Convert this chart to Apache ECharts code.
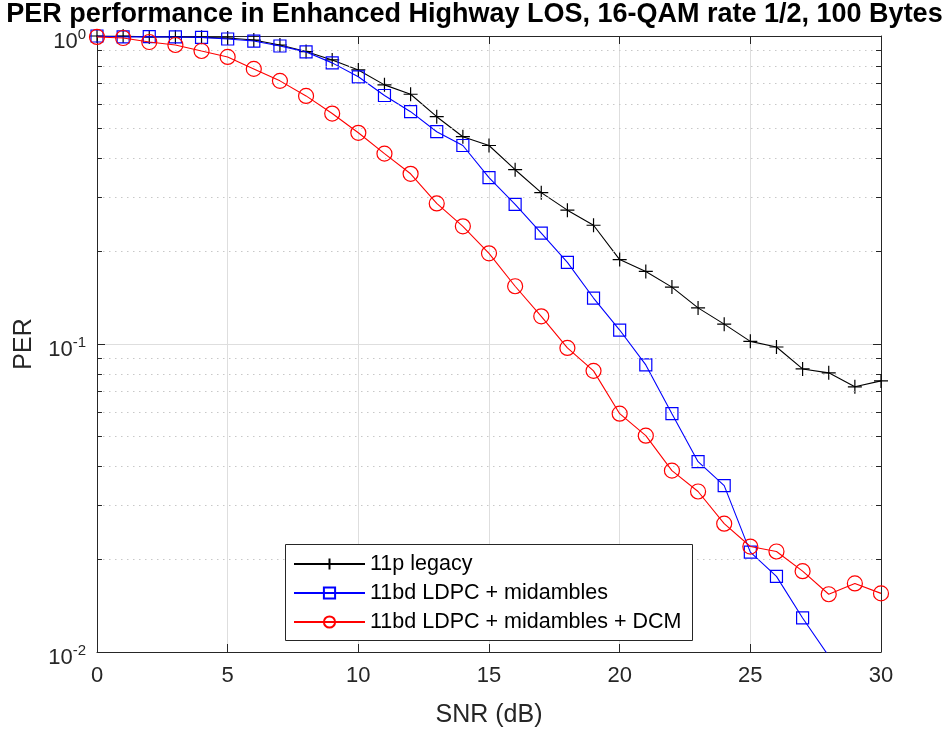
<!DOCTYPE html>
<html>
<head>
<meta charset="utf-8">
<title>PER performance in Enhanced Highway LOS</title>
<script src="https://cdn.jsdelivr.net/npm/echarts@6/dist/echarts.min.js"></script>
<style>
  html, body { margin: 0; padding: 0; background: #fff; }
  #chart { width: 949px; height: 733px; }
</style>
</head>
<body>
<div id="chart"></div>
<script>
// SNR grid (dB)
const snr = [0, 1, 2, 3, 4, 5, 6, 7, 8, 9, 10, 11, 12, 13, 14, 15, 16, 17, 18, 19, 20,
             21, 22, 23, 24, 25, 26, 27, 28, 29, 30];

// Packet error rate per scheme
const legacy11p = [1.0, 1.0, 0.993, 0.993, 0.99, 0.985, 0.97, 0.935, 0.89, 0.836, 0.776,
                   0.694, 0.647, 0.547, 0.471, 0.441, 0.368, 0.310, 0.272, 0.243, 0.188,
                   0.172, 0.153, 0.131, 0.116, 0.102, 0.0978, 0.0830, 0.0806, 0.0726, 0.0759];
const ldpcMid = [1.0, 0.993, 0.995, 0.993, 0.99, 0.978, 0.963, 0.928, 0.888, 0.818, 0.737,
                 0.641, 0.568, 0.489, 0.441, 0.347, 0.284, 0.229, 0.184, 0.141, 0.111,
                 0.0855, 0.0594, 0.0415, 0.0347, 0.0211, 0.0176, 0.0129, 0.0097];
const ldpcMidDcm = [0.993, 0.985, 0.956, 0.935, 0.894, 0.855, 0.782, 0.715, 0.639, 0.560, 0.485,
                    0.415, 0.357, 0.286, 0.241, 0.197, 0.154, 0.123, 0.0971, 0.0818, 0.0594,
                    0.0504, 0.0388, 0.0332, 0.0261, 0.0220, 0.0212, 0.0183, 0.0154, 0.0167, 0.0155];

const seriesNames = ['11p legacy', '11bd LDPC + midambles', '11bd LDPC + midambles + DCM'];

// Minor decade positions for the dotted grid and the small ticks
const minorLevels = [0.02, 0.03, 0.04, 0.05, 0.06, 0.07, 0.08, 0.09,
                     0.2, 0.3, 0.4, 0.5, 0.6, 0.7, 0.8, 0.9];

const pairs = ys => ys.map((v, i) => [snr[i], v]);

const FONT = '"Liberation Sans", Arial, Helvetica, sans-serif';
const AXIS_COLOR = '#262626';

const minorGrid = minorLevels.map(v => [{ coord: [0, v] }, { coord: [30, v] }]);
const minorTicksLeft = minorLevels.map(v => [{ coord: [0, v] }, { coord: [0.19, v] }]);
const minorTicksRight = minorLevels.map(v => [{ coord: [30, v] }, { coord: [29.81, v] }]);

const chart = echarts.init(document.getElementById('chart'), null, { renderer: 'canvas' });

const plusPath = 'path://M5,0L5,10M0,5L10,5';

chart.setOption({
  animation: false,
  backgroundColor: '#fff',
  title: {
    text: 'PER performance in Enhanced Highway LOS, 16-QAM rate 1/2, 100 Bytes',
    left: 'center',
    top: 1,
    padding: 0,
    textStyle: { fontFamily: FONT, fontSize: 27, fontWeight: 'bold', color: '#000' }
  },
  grid: { left: 97, right: 68, top: 36, bottom: 79, containLabel: false },
  xAxis: [{
    type: 'value',
    min: 0, max: 30, interval: 5,
    position: 'bottom',
    name: 'SNR (dB)',
    nameLocation: 'middle',
    nameGap: 51,
    nameTextStyle: { fontFamily: FONT, fontSize: 25, color: AXIS_COLOR },
    axisLine: { show: true, onZero: false, lineStyle: { color: AXIS_COLOR, width: 1 } },
    axisTick: { show: true, inside: true, length: 8, lineStyle: { color: AXIS_COLOR } },
    axisLabel: { fontFamily: FONT, fontSize: 22, color: AXIS_COLOR, margin: 13 },
    splitLine: { show: true, lineStyle: { color: '#dedede', width: 1 } }
  }, {
    type: 'value',
    min: 0, max: 30, interval: 5,
    position: 'top',
    axisLine: { show: true, onZero: false, lineStyle: { color: AXIS_COLOR, width: 1 } },
    axisTick: { show: true, inside: true, length: 8, lineStyle: { color: AXIS_COLOR } },
    axisLabel: { show: false },
    splitLine: { show: false }
  }],
  yAxis: [{
    type: 'log',
    logBase: 10,
    min: 0.01, max: 1,
    position: 'left',
    name: 'PER',
    nameLocation: 'middle',
    nameGap: 60,
    nameRotate: 90,
    nameTextStyle: { fontFamily: FONT, fontSize: 25, color: AXIS_COLOR },
    axisLine: { show: true, onZero: false, lineStyle: { color: AXIS_COLOR, width: 1 } },
    axisTick: { show: true, inside: true, length: 8, lineStyle: { color: AXIS_COLOR } },
    axisLabel: {
      margin: 11,
      formatter: v => '{b|10}{s|' + Math.round(Math.log10(v)) + '}',
      rich: {
        b: { fontFamily: FONT, fontSize: 22, color: AXIS_COLOR, padding: [12, 0, 0, 0] },
        s: { fontFamily: FONT, fontSize: 15, color: AXIS_COLOR, verticalAlign: 'top', padding: [8, 0, 0, 0] }
      }
    },
    splitLine: { show: true, lineStyle: { color: '#dedede', width: 1 } }
  }, {
    type: 'log',
    logBase: 10,
    min: 0.01, max: 1,
    position: 'right',
    axisLine: { show: true, onZero: false, lineStyle: { color: AXIS_COLOR, width: 1 } },
    axisTick: { show: true, inside: true, length: 8, lineStyle: { color: AXIS_COLOR } },
    axisLabel: { show: false },
    splitLine: { show: false }
  }],
  legend: {
    data: seriesNames,
    orient: 'vertical',
    left: 293,
    top: 553,
    padding: 0,
    itemWidth: 71,
    itemHeight: 14,
    itemGap: 7,
    z: 20,
    textStyle: { fontFamily: FONT, fontSize: 21.5, color: '#000', lineHeight: 22, padding: [0, 0, 0, 0] }
  },
  graphic: [{
    type: 'rect',
    z: 15,
    silent: true,
    shape: { x: 285.5, y: 544.5, width: 407, height: 96 },
    style: { fill: '#fff', stroke: AXIS_COLOR, lineWidth: 1 }
  }],
  series: [{
    name: 'minor grid',
    type: 'line',
    data: [],
    silent: true,
    z: 1,
    markLine: {
      silent: true,
      symbol: ['none', 'none'],
      label: { show: false },
      animation: false,
      lineStyle: { color: '#c8c8c8', width: 1, type: [1.5, 4.5] },
      data: minorGrid
    }
  }, {
    name: 'minor ticks',
    type: 'line',
    data: [],
    silent: true,
    z: 1,
    markLine: {
      silent: true,
      symbol: ['none', 'none'],
      label: { show: false },
      animation: false,
      lineStyle: { color: AXIS_COLOR, width: 1, type: 'solid' },
      data: minorTicksLeft.concat(minorTicksRight)
    }
  }, {
    name: seriesNames[0],
    type: 'line',
    data: pairs(legacy11p),
    symbol: plusPath,
    symbolSize: 14,
    z: 3,
    lineStyle: { color: '#000', width: 1.1 },
    itemStyle: { color: 'rgba(0,0,0,0)', borderColor: '#000', borderWidth: 1.2 }
  }, {
    name: seriesNames[1],
    type: 'line',
    data: pairs(ldpcMid),
    symbol: 'rect',
    symbolSize: 12,
    z: 4,
    lineStyle: { color: '#0000ff', width: 1.1 },
    itemStyle: { color: 'rgba(0,0,0,0)', borderColor: '#0000ff', borderWidth: 1.2 }
  }, {
    name: seriesNames[2],
    type: 'line',
    data: pairs(ldpcMidDcm),
    symbol: 'circle',
    symbolSize: 15,
    z: 5,
    lineStyle: { color: '#ff0000', width: 1.1 },
    itemStyle: { color: 'rgba(0,0,0,0)', borderColor: '#ff0000', borderWidth: 1.2 }
  }]
});
</script>
</body>
</html>
